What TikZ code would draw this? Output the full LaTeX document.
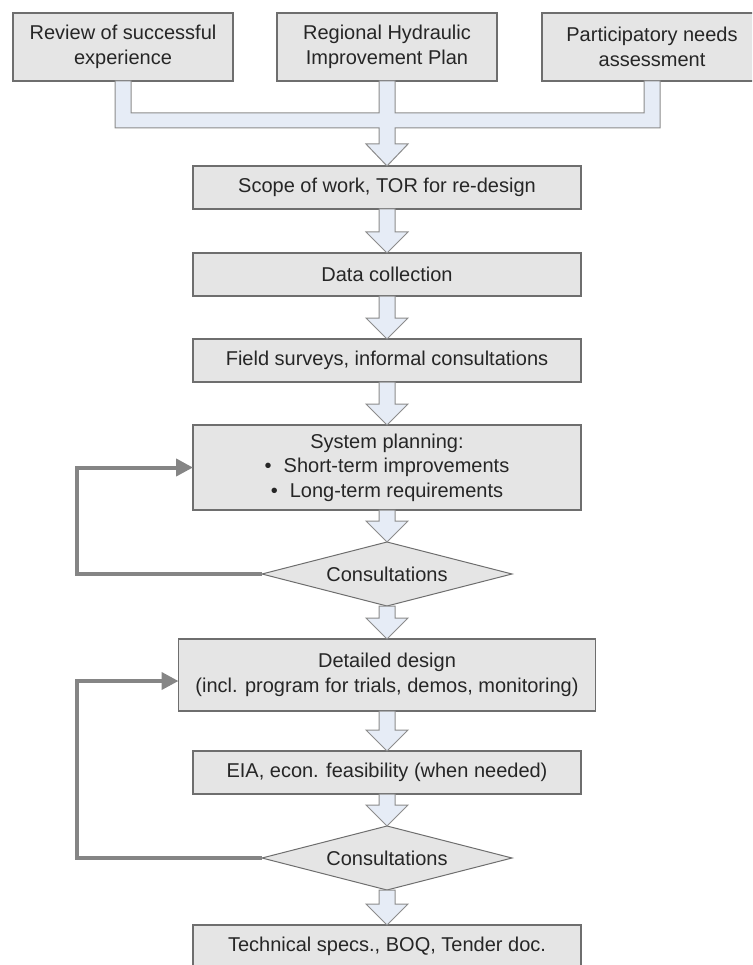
\documentclass[tikz,border=0pt]{standalone}
\usepackage{fontspec}
\setmainfont{Liberation Sans}
\usetikzlibrary{positioning,calc,shapes.geometric,arrows.meta}
\definecolor{boxgray}{HTML}{E5E5E5}
\definecolor{edgegray}{HTML}{6E6E6E}
\definecolor{pipeblue}{HTML}{E6ECF6}
\definecolor{pipeedge}{HTML}{8C8C8C}
\definecolor{loopgray}{HTML}{858585}
\begin{document}
\begin{tikzpicture}[x=1pt, y=1pt, font=\fontsize{20}{24.5}\selectfont,
    box/.style = {draw=edgegray, fill=boxgray, line width=1.3pt, inner sep=0pt, outer sep=0pt,
      align=center, text=black!85, minimum width=388pt, minimum height=43pt},
    topbox/.style = {box, minimum width=220pt, minimum height=68pt},
    choice/.style = {diamond, draw=edgegray, fill=boxgray, line width=1pt, inner sep=0pt, outer sep=0pt,
      aspect=3.9, minimum width=250pt, minimum height=64pt, text=black!85},
    pipe/.style = {draw=pipeedge, fill=pipeblue, line width=1pt},
    back/.style = {draw=loopgray, line width=4pt, -{Triangle[length=17pt, width=17pt]}}]
    \clip (0,0) rectangle (752,-965);
    % sources
    \node[topbox] (plan) at (387,-47) {Regional Hydraulic\\Improvement Plan};
    \node[topbox] (rev) [left=44pt of plan] {Review of successful\\experience};
    \node[topbox] (needs) [right=45pt of plan] {Participatory needs\\assessment};
    % main chain
    \node[box] (scope) at (387,-187.5) {Scope of work, TOR for re-design};
    \node[box] (data) [below=44pt of scope] {Data collection};
    \node[box] (field) [below=43pt of data] {Field surveys, informal consultations};
    \node[box, minimum height=85pt] (sys) [below=43pt of field]
      {System planning:\\ •\hspace{0.6em}Short-term improvements\\ •\hspace{0.6em}Long-term requirements};
    \node[choice] (cons1) [below=32pt of sys] {Consultations};
    \node[box, minimum width=417pt, minimum height=72pt] (design) [below=33pt of cons1]
      {Detailed design\\(incl. program for trials, demos, monitoring)};
    \node[box] (eia) [below=40pt of design] {EIA, econ. feasibility (when needed)};
    \node[choice] (cons2) [below=32pt of eia] {Consultations};
    \node[box] (tech) [below=35pt of cons2] {Technical specs., BOQ, Tender doc.};
    % collector into scope
    \draw[pipe] ($(rev.south)+(-8,0)$) |- ($(plan.south)+(-8,-47)$) -- ($(plan.south)+(-8,-63)$)
      -- ($(plan.south)+(-21,-63)$) -- (scope.north) -- ($(plan.south)+(21,-63)$)
      -- ($(plan.south)+(8,-63)$) -- ($(plan.south)+(8,-47)$) -| ($(needs.south)+(8,0)$)
      -- ($(needs.south)+(-8,0)$) |- ($(plan.south)+(8,-32)$) -- ($(plan.south)+(8,0)$)
      -- ($(plan.south)+(-8,0)$) -- ($(plan.south)+(-8,-32)$) -| ($(rev.south)+(8,0)$) -- cycle;
    % block arrows
    \foreach \a/\b in {scope/data, data/field, field/sys, sys/cons1, cons1/design, design/eia, eia/cons2, cons2/tech}
      \draw[pipe] ($(\a.south)+(-8,0)$) -- ($(\b.north)+(-8,21)$) -- ++(-13,0) -- (\b.north)
        -- ($(\b.north)+(21,21)$) -- ++(-13,0) -- ($(\a.south)+(8,0)$) -- cycle;
    % feedback loops
    \draw[back] (cons1.west) -- ++(-185,0) |- (sys.west);
    \draw[back] (cons2.west) -- ++(-185,0) |- ($(design.west)+(0,-6)$);
\end{tikzpicture}
\end{document}
